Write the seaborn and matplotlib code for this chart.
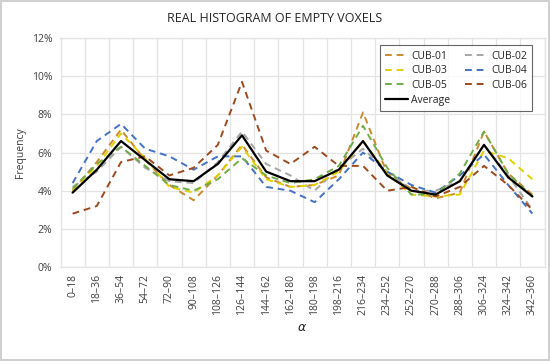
import matplotlib
matplotlib.use('Agg')
import matplotlib.pyplot as plt
import seaborn as sns
import numpy as np
from matplotlib.ticker import PercentFormatter, FixedLocator

# bins of alpha
cats = ['0–18', '18–36', '36–54', '54–72', '72–90', '90–108', '108–126', '126–144',
        '144–162', '162–180', '180–198', '198–216', '216–234', '234–252', '252–270',
        '270–288', '288–306', '306–324', '324–342', '342–360']

# frequencies in %
cub01 = [4.0, 5.5, 7.2, 5.6, 4.3, 3.5, 4.8, 6.4, 4.7, 4.2, 4.3, 4.8, 8.1, 4.9, 4.1, 3.6, 3.9, 7.1, 4.9, 3.8]
cub02 = [4.2, 5.0, 6.3, 5.2, 4.5, 4.4, 5.5, 7.1, 5.4, 4.8, 4.0, 5.2, 6.2, 5.0, 4.0, 4.0, 4.5, 6.4, 4.8, 3.0]
cub03 = [4.0, 5.3, 7.0, 5.7, 4.2, 3.9, 4.8, 6.3, 4.6, 4.2, 4.3, 5.0, 6.6, 4.9, 3.8, 3.7, 3.8, 6.1, 5.7, 4.6]
cub04 = [4.4, 6.6, 7.5, 6.2, 5.8, 5.1, 5.8, 5.8, 4.2, 4.0, 3.4, 4.6, 6.0, 5.0, 4.3, 3.9, 4.8, 5.9, 4.3, 2.8]
cub05 = [4.1, 5.4, 6.3, 5.3, 4.3, 4.0, 4.6, 5.7, 4.8, 4.4, 4.6, 5.3, 7.4, 5.2, 3.8, 3.8, 4.9, 7.1, 4.9, 3.7]
cub06 = [2.8, 3.2, 5.5, 5.8, 4.8, 5.2, 6.4, 9.7, 6.1, 5.4, 6.3, 5.3, 5.3, 4.0, 4.2, 3.7, 4.2, 5.3, 4.3, 3.0]
average = [3.9, 5.1, 6.6, 5.6, 4.6, 4.5, 5.4, 6.9, 5.0, 4.5, 4.5, 5.1, 6.6, 4.8, 4.0, 3.8, 4.5, 6.4, 4.7, 3.7]

series = [('CUB-01', cub01, '#CC8A2E'), ('CUB-02', cub02, '#A5A5A5'),
          ('CUB-03', cub03, '#E2D000'), ('CUB-04', cub04, '#4472C4'),
          ('CUB-05', cub05, '#70AD47'), ('CUB-06', cub06, '#9E4A1E')]

sns.set_style('white')
plt.rcParams['font.family'] = ['Open Sans', 'DejaVu Sans']

fig = plt.figure(figsize=(5.5, 3.61), dpi=100)
fig.patch.set_edgecolor('#D0D0D0')
fig.patch.set_linewidth(1.5)
ax = fig.add_axes([0.110, 0.260, 0.880, 0.635])

x = np.arange(len(cats))
for name, vals, col in series:
    sns.lineplot(x=x, y=vals, ax=ax, color=col, lw=1.4, label=name,
                 linestyle=(0, (3.5, 2.5)))
sns.lineplot(x=x, y=average, ax=ax, color='black', lw=1.6, label='Average')

ax.set_xlim(-0.5, len(cats) - 0.5)
ax.set_ylim(0, 12)
ax.set_yticks(np.arange(0, 13, 2))
ax.yaxis.set_major_formatter(PercentFormatter(decimals=0))
ax.set_xticks(x)
ax.set_xticklabels(cats, rotation=90, fontsize=7.5, color='#404040')
ax.tick_params(axis='y', labelsize=7.5, colors='#404040', length=0, pad=6)
ax.tick_params(axis='x', length=0, pad=5)
ax.xaxis.set_minor_locator(FixedLocator(np.arange(-0.5, len(cats), 1)))
ax.grid(True, which='minor', axis='x', color='#E3E3E3', lw=0.9)
ax.grid(True, which='major', axis='y', color='#E3E3E3', lw=0.9)
for s in ax.spines.values():
    s.set_color('#E3E3E3')
    s.set_linewidth(0.9)

ax.set_ylabel('Frequency', fontsize=7.5, color='#404040', labelpad=4)
ax.set_xlabel(r'$\alpha$', fontsize=9, labelpad=4)
fig.text(0.5, 0.948, 'REAL HISTOGRAM OF EMPTY VOXELS', ha='center', va='center',
         fontsize=9, color='#262626')

# legend filled row by row like the original
handles, labels = ax.get_legend_handles_labels()
order = [0, 2, 4, 6, 1, 3, 5]
leg = ax.legend([handles[i] for i in order], [labels[i] for i in order],
                ncol=2, loc='upper right', bbox_to_anchor=(0.985, 0.99), fontsize=7.5,
                frameon=True, fancybox=False, edgecolor='#404040', handlelength=2.2,
                columnspacing=1.4, labelspacing=0.35, borderpad=0.5, handletextpad=0.3)
leg.get_frame().set_linewidth(0.8)

fig.savefig('out.png', dpi=100)
